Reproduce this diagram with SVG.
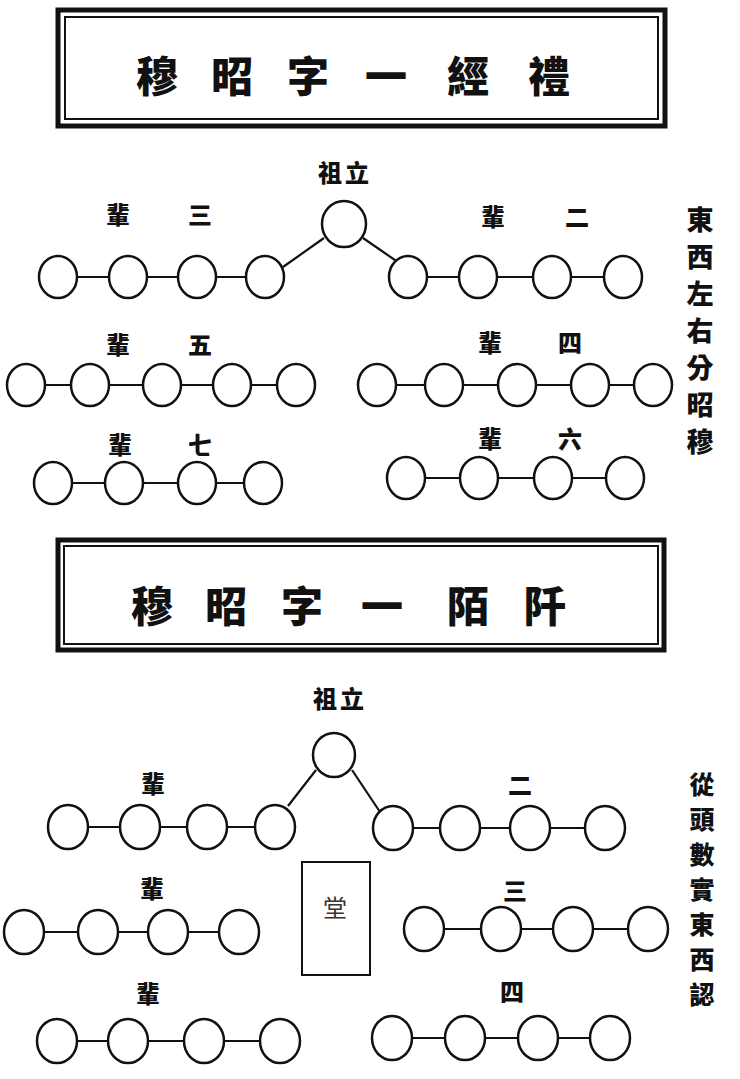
<svg xmlns="http://www.w3.org/2000/svg" width="740" height="1079" viewBox="0 0 740 1079">
<style>
.bg{fill:#ffffff}
.n{fill:#ffffff;stroke:#111;stroke-width:2.5}
.e{stroke:#111;stroke-width:2.2;fill:none}
.ob{fill:none;stroke:#111;stroke-width:5}
.ib{fill:none;stroke:#111;stroke-width:2}
.t{font-family:"Noto Sans CJK TC","Noto Sans CJK SC",sans-serif;font-weight:900;fill:#111;text-anchor:middle;dominant-baseline:central}
.title{font-size:42px}
.lbl{font-size:24px}
.vt{font-size:27px}
.vt2{font-size:25px}
.hall{font-family:"Noto Sans CJK TC","Noto Sans CJK SC",sans-serif;font-size:24px;font-weight:400;fill:#333;text-anchor:middle;dominant-baseline:central}
</style>
<rect class="bg" x="0" y="0" width="740" height="1079"/>

<g id="title1">
<rect class="ob" x="58" y="10" width="607" height="116"/>
<rect class="ib" x="65" y="17" width="593" height="102"/>
<text class="t title" x="157" y="73">穆</text>
<text class="t title" x="232" y="73">昭</text>
<text class="t title" x="308" y="73">字</text>
<text class="t title" x="386" y="73">一</text>
<text class="t title" x="468" y="73">經</text>
<text class="t title" x="549" y="73">禮</text>
</g>

<g id="connectors">
<line class="e" x1="58" y1="277" x2="265" y2="277"/>
<line class="e" x1="283" y1="267" x2="324" y2="238"/>
<line class="e" x1="363" y1="238" x2="405" y2="267"/>
<line class="e" x1="408" y1="277" x2="623" y2="277"/>
<line class="e" x1="26" y1="385" x2="296" y2="385"/>
<line class="e" x1="377" y1="385" x2="653" y2="385"/>
<line class="e" x1="53" y1="483" x2="263" y2="483"/>
<line class="e" x1="406" y1="478" x2="625" y2="478"/>

<line class="e" x1="68" y1="827" x2="275" y2="827"/>
<line class="e" x1="288" y1="806" x2="316" y2="770"/>
<line class="e" x1="352" y1="770" x2="380" y2="812"/>
<line class="e" x1="393" y1="828" x2="605" y2="828"/>
<line class="e" x1="24" y1="932" x2="239" y2="932"/>
<line class="e" x1="424" y1="929" x2="648" y2="929"/>
<line class="e" x1="57" y1="1041" x2="280" y2="1041"/>
<line class="e" x1="392" y1="1038" x2="610" y2="1038"/>
</g>

<g id="root1">
<text class="t lbl" x="345" y="171" letter-spacing="3">祖立</text>
<ellipse class="n" cx="344" cy="224" rx="22" ry="23"/>
</g>

<g id="gen3">
<text class="t lbl" x="118" y="213">輩</text>
<text class="t lbl" x="200" y="213">三</text>
<ellipse class="n" cx="58" cy="277" rx="19" ry="21"/>
<ellipse class="n" cx="128" cy="277" rx="19" ry="21"/>
<ellipse class="n" cx="197" cy="277" rx="19" ry="21"/>
<ellipse class="n" cx="265" cy="277" rx="19" ry="21"/>
</g>

<g id="gen2">
<text class="t lbl" x="493" y="215">輩</text>
<text class="t lbl" x="577" y="215">二</text>
<ellipse class="n" cx="408" cy="277" rx="19" ry="21"/>
<ellipse class="n" cx="478" cy="277" rx="19" ry="21"/>
<ellipse class="n" cx="552" cy="277" rx="19" ry="21"/>
<ellipse class="n" cx="623" cy="277" rx="19" ry="21"/>
</g>

<g id="gen5">
<text class="t lbl" x="118" y="343">輩</text>
<text class="t lbl" x="200" y="343">五</text>
<ellipse class="n" cx="26" cy="385" rx="19" ry="21"/>
<ellipse class="n" cx="90" cy="385" rx="19" ry="21"/>
<ellipse class="n" cx="162" cy="385" rx="19" ry="21"/>
<ellipse class="n" cx="232" cy="385" rx="19" ry="21"/>
<ellipse class="n" cx="296" cy="385" rx="19" ry="21"/>
</g>

<g id="gen4">
<text class="t lbl" x="490" y="341">輩</text>
<text class="t lbl" x="570" y="341">四</text>
<ellipse class="n" cx="377" cy="385" rx="19" ry="21"/>
<ellipse class="n" cx="444" cy="385" rx="19" ry="21"/>
<ellipse class="n" cx="517" cy="385" rx="19" ry="21"/>
<ellipse class="n" cx="590" cy="385" rx="19" ry="21"/>
<ellipse class="n" cx="653" cy="385" rx="19" ry="21"/>
</g>

<g id="gen7">
<text class="t lbl" x="120" y="443">輩</text>
<text class="t lbl" x="200" y="443">七</text>
<ellipse class="n" cx="53" cy="483" rx="19" ry="21"/>
<ellipse class="n" cx="124" cy="483" rx="19" ry="21"/>
<ellipse class="n" cx="197" cy="483" rx="19" ry="21"/>
<ellipse class="n" cx="263" cy="483" rx="19" ry="21"/>
</g>

<g id="gen6">
<text class="t lbl" x="490" y="437">輩</text>
<text class="t lbl" x="570" y="437">六</text>
<ellipse class="n" cx="406" cy="478" rx="19" ry="21"/>
<ellipse class="n" cx="479" cy="478" rx="19" ry="21"/>
<ellipse class="n" cx="553" cy="478" rx="19" ry="21"/>
<ellipse class="n" cx="625" cy="478" rx="19" ry="21"/>
</g>

<g id="note1">
<text class="t vt" x="700" y="218">東</text>
<text class="t vt" x="700" y="255">西</text>
<text class="t vt" x="700" y="292">左</text>
<text class="t vt" x="700" y="329">右</text>
<text class="t vt" x="700" y="366">分</text>
<text class="t vt" x="700" y="403">昭</text>
<text class="t vt" x="700" y="440">穆</text>
</g>

<g id="title2">
<rect class="ob" x="58" y="540" width="606" height="110"/>
<rect class="ib" x="64" y="546" width="594" height="98"/>
<text class="t title" x="152" y="603">穆</text>
<text class="t title" x="226" y="603">昭</text>
<text class="t title" x="302" y="603">字</text>
<text class="t title" x="382" y="603">一</text>
<text class="t title" x="468" y="603">陌</text>
<text class="t title" x="545" y="603">阡</text>
</g>

<g id="root2">
<text class="t lbl" x="340" y="697" letter-spacing="3">祖立</text>
<ellipse class="n" cx="334" cy="755" rx="21" ry="22"/>
</g>

<g id="b-row1-left">
<text class="t lbl" x="153" y="782">輩</text>
<ellipse class="n" cx="68" cy="827" rx="20" ry="22"/>
<ellipse class="n" cx="140" cy="827" rx="20" ry="22"/>
<ellipse class="n" cx="207" cy="827" rx="20" ry="22"/>
<ellipse class="n" cx="275" cy="827" rx="20" ry="22"/>
</g>

<g id="b-row1-right">
<text class="t lbl" x="520" y="783">二</text>
<ellipse class="n" cx="393" cy="828" rx="20" ry="22"/>
<ellipse class="n" cx="460" cy="828" rx="20" ry="22"/>
<ellipse class="n" cx="530" cy="828" rx="20" ry="22"/>
<ellipse class="n" cx="605" cy="828" rx="20" ry="22"/>
</g>

<g id="hall">
<rect x="302" y="862" width="68" height="113" fill="#fff" stroke="#111" stroke-width="2"/>
<text class="hall" x="335" y="906">堂</text>
</g>

<g id="b-row2-left">
<text class="t lbl" x="152" y="887">輩</text>
<ellipse class="n" cx="24" cy="932" rx="20" ry="22"/>
<ellipse class="n" cx="98" cy="932" rx="20" ry="22"/>
<ellipse class="n" cx="168" cy="932" rx="20" ry="22"/>
<ellipse class="n" cx="239" cy="932" rx="20" ry="22"/>
</g>

<g id="b-row2-right">
<text class="t lbl" x="515" y="889">三</text>
<ellipse class="n" cx="424" cy="929" rx="20" ry="22"/>
<ellipse class="n" cx="501" cy="929" rx="20" ry="22"/>
<ellipse class="n" cx="573" cy="929" rx="20" ry="22"/>
<ellipse class="n" cx="648" cy="929" rx="20" ry="22"/>
</g>

<g id="b-row3-left">
<text class="t lbl" x="148" y="992">輩</text>
<ellipse class="n" cx="57" cy="1041" rx="20" ry="22"/>
<ellipse class="n" cx="128" cy="1041" rx="20" ry="22"/>
<ellipse class="n" cx="204" cy="1041" rx="20" ry="22"/>
<ellipse class="n" cx="280" cy="1041" rx="20" ry="22"/>
</g>

<g id="b-row3-right">
<text class="t lbl" x="512" y="990">四</text>
<ellipse class="n" cx="392" cy="1038" rx="20" ry="22"/>
<ellipse class="n" cx="465" cy="1038" rx="20" ry="22"/>
<ellipse class="n" cx="538" cy="1038" rx="20" ry="22"/>
<ellipse class="n" cx="610" cy="1038" rx="20" ry="22"/>
</g>

<g id="note2">
<text class="t vt2" x="702" y="783">從</text>
<text class="t vt2" x="702" y="818">頭</text>
<text class="t vt2" x="702" y="853">數</text>
<text class="t vt2" x="702" y="888">實</text>
<text class="t vt2" x="702" y="923">東</text>
<text class="t vt2" x="702" y="958">西</text>
<text class="t vt2" x="702" y="993">認</text>
</g>
</svg>
